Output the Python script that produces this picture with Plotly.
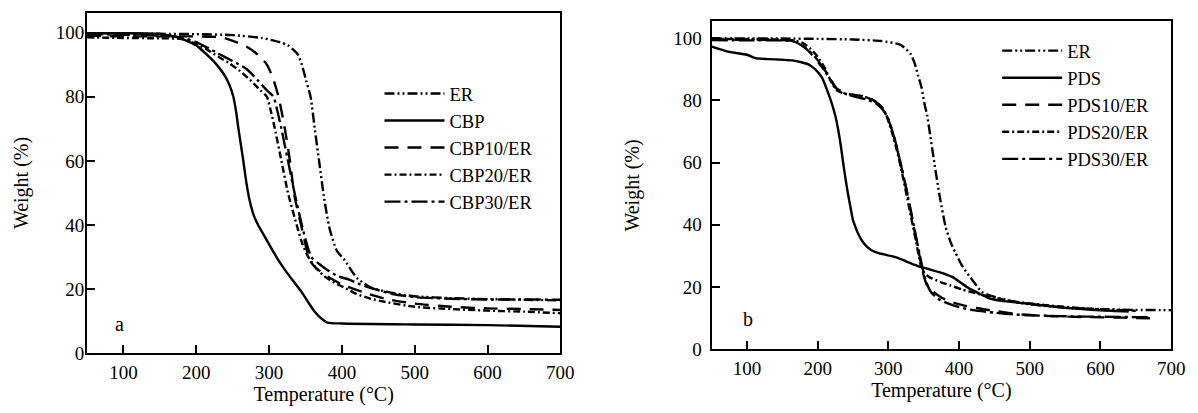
import plotly.graph_objects as go

# ---------------- Panel a ----------------
er_a_T = [50, 100, 150, 200, 250, 290, 315, 326, 334, 340, 345, 351, 357, 363, 369, 375, 383, 393, 404, 414, 422, 440, 470, 500, 550, 600, 650, 700]
er_a_W = [99.8, 99.7, 99.6, 99.5, 99.2, 98.3, 97, 96, 94.5, 93, 90, 85, 80, 69.6, 59.5, 49.3, 39, 32, 29, 25.5, 23.2, 20.5, 18.8, 17.8, 17.2, 16.9, 16.7, 16.5]

cbp_T = [50, 100, 150, 175, 200, 215, 228, 238, 245, 251, 255, 258, 262, 265, 269, 273, 279, 285, 295, 305, 313, 325, 335, 345, 355, 363, 372, 380, 400, 500, 600, 700]
cbp_W = [99.8, 99.8, 99.6, 98.5, 96, 93, 90, 87, 84, 80, 75, 70, 64, 59.5, 53, 48, 43, 40, 36, 32, 29, 25, 22, 19, 15.5, 12.9, 10.8, 9.6, 9.3, 9.0, 8.8, 8.3]

cbp10_T = [50, 100, 150, 200, 235, 255, 270, 285, 297, 305, 313, 322, 329, 335, 345, 356, 365, 380, 400, 430, 460, 500, 550, 600, 650, 700]
cbp10_W = [99, 98.8, 98.8, 98.8, 98.5, 97, 95.5, 93, 90, 86, 80, 69.6, 59.5, 49, 39, 29, 26.5, 24, 21.5, 19, 17, 15.5, 14.5, 14, 13.8, 13.5]

cbp20_T = [50, 100, 150, 180, 200, 213, 230, 245, 260, 275, 288, 297, 303, 308, 317, 326, 338, 346, 354, 363, 376, 390, 405, 420, 440, 460, 500, 550, 600, 650, 700]
cbp20_W = [98.5, 98.3, 98.2, 98, 96.5, 95, 92.5, 90.5, 88, 85, 82, 80, 75, 70, 60, 50, 40, 34, 30, 27, 24, 22, 20.3, 18.5, 17, 16, 14.5, 13.8, 13.3, 13, 12.5]

cbp30_T = [50, 100, 150, 180, 200, 230, 255, 270, 285, 297, 306, 312, 317, 326, 335, 345, 352, 358, 368, 380, 395, 410, 425, 445, 470, 500, 550, 600, 650, 700]
cbp30_W = [99.5, 99.3, 99, 98.5, 97, 93.5, 90.5, 88.5, 85, 82, 80, 75, 70, 60, 50, 40, 34, 30, 28, 26, 24, 23, 21.5, 20, 18.5, 17.5, 17, 16.8, 16.8, 16.7]

# ---------------- Panel b ----------------
er_b_T = [50, 100, 150, 200, 250, 290, 317, 331, 337, 342, 347, 351, 355, 358, 365, 372, 381, 388, 395, 404, 414, 423, 432, 448, 465, 490, 525, 560, 600, 650, 700]
er_b_W = [99.8, 99.8, 99.8, 99.7, 99.5, 99, 97.8, 95, 92, 88, 84, 79, 75, 70.6, 60, 50, 39.4, 34.5, 31, 27, 23.7, 21, 18.5, 17, 16, 14.8, 13.9, 13.3, 12.9, 12.7, 12.6]

pds_T = [50, 75, 100, 112, 130, 150, 164, 177, 187, 197, 206, 213, 220, 225, 229, 233, 236, 240, 243, 247, 250, 254, 257, 265, 275, 285, 294, 312, 325, 340, 355, 372, 391, 402, 414, 428, 442, 460, 489, 520, 554, 600, 640]
pds_W = [97.2, 95.5, 94.6, 93.5, 93.2, 93, 92.8, 92.2, 91.5, 89.8, 87.3, 83.5, 79, 75, 70.6, 65, 60, 54, 49.8, 45, 41.5, 39, 37.3, 34.2, 32, 31, 30.5, 29.5, 28.3, 26.9, 25.9, 24.8, 23.2, 21.5, 19.6, 18, 16.5, 15.6, 14.9, 14.1, 13.3, 12.6, 12.2]

pds10_T = [50, 100, 150, 165, 178, 192, 203, 211, 218, 225, 235, 243, 260, 275, 285, 294, 302, 308, 317, 327, 336, 345, 350, 355, 364, 375, 387, 405, 424, 455, 489, 530, 580, 630, 670]
pds10_W = [99.5, 99.4, 99.3, 99, 97.7, 94.6, 91.5, 89.4, 87, 84, 82.8, 82, 81.5, 80.5, 79, 77, 72.5, 68.5, 60, 49.8, 39.4, 29, 23.7, 20.5, 18.5, 16.7, 15.4, 14.2, 13.3, 12.2, 11.2, 10.7, 10.4, 10.2, 10]

pds20_T = [50, 100, 150, 165, 178, 190, 200, 211, 220, 228, 240, 255, 270, 282, 292, 299, 306, 312, 320, 329, 338, 346, 351, 358, 372, 387, 405, 424, 452, 480, 520, 560, 600, 650]
pds20_W = [99.7, 99.6, 99.5, 99.3, 98.5, 96.5, 94, 90, 85.5, 83, 82, 81.5, 80.8, 79.5, 77.5, 74, 69, 64, 56, 46, 36, 27, 24.5, 23.2, 21.8, 20.6, 19.2, 18, 16.5, 15.3, 14.3, 13.5, 12.9, 12.4]

pds30_T = [50, 100, 150, 165, 178, 192, 203, 211, 220, 228, 240, 255, 270, 282, 292, 300, 307, 315, 325, 334, 342, 348, 353, 360, 370, 385, 400, 420, 450, 480, 520, 560, 600, 640, 670]
pds30_W = [99.3, 99.2, 99.2, 99, 97.5, 95, 92, 89, 86, 83.5, 82, 81, 80.2, 79, 77, 74, 69, 62, 52, 42, 33, 26.5, 22, 18.5, 16.3, 14.7, 13.6, 12.6, 11.8, 11.2, 10.8, 10.6, 10.5, 10.4, 10.3]

x_ticks = [100, 200, 300, 400, 500, 600, 700]
y_ticks = [0, 20, 40, 60, 80, 100]

FONT = "Liberation Serif"
DASH_ER = "10px,3px,2px,3px,2px,3px"
DASH_10 = "14px,9px"
DASH_20 = "7px,3px,2px,3px"
DASH_30 = "16px,4px,3px,4px"
LW = 2.4

fig = go.Figure()

def add(T, W, name, dash, xa, ya, leg):
    fig.add_trace(go.Scatter(
        x=T, y=W, name=name, mode="lines", xaxis=xa, yaxis=ya, legend=leg,
        line=dict(color="black", width=LW, dash=dash, shape="spline", smoothing=0.6),
    ))

add(er_a_T, er_a_W, "ER", DASH_ER, "x", "y", "legend")
add(cbp_T, cbp_W, "CBP", "solid", "x", "y", "legend")
add(cbp10_T, cbp10_W, "CBP10/ER", DASH_10, "x", "y", "legend")
add(cbp20_T, cbp20_W, "CBP20/ER", DASH_20, "x", "y", "legend")
add(cbp30_T, cbp30_W, "CBP30/ER", DASH_30, "x", "y", "legend")

add(er_b_T, er_b_W, "ER", DASH_ER, "x2", "y2", "legend2")
add(pds_T, pds_W, "PDS", "solid", "x2", "y2", "legend2")
add(pds10_T, pds10_W, "PDS10/ER", DASH_10, "x2", "y2", "legend2")
add(pds20_T, pds20_W, "PDS20/ER", DASH_20, "x2", "y2", "legend2")
add(pds30_T, pds30_W, "PDS30/ER", DASH_30, "x2", "y2", "legend2")

W_PX, H_PX = 1198, 413

def xax(x0, x1, anchor):
    return dict(domain=[x0 / W_PX, x1 / W_PX], range=[50, 700], anchor=anchor,
                tickvals=x_ticks, ticks="inside", ticklen=8, tickwidth=1.5, tickcolor="black",
                showline=True, linecolor="black", linewidth=2, mirror=True,
                showgrid=False, zeroline=False, ticklabelstandoff=1,
                tickfont=dict(family=FONT, size=19, color="black"),
                title=dict(text="Temperature (°C)", font=dict(family=FONT, size=20, color="black"), standoff=2))

def yax(y0, y1, top, anchor, standoff_lbl, title_standoff):
    return dict(domain=[1 - y0 / H_PX, 1 - y1 / H_PX], range=[0, top], anchor=anchor,
                tickvals=y_ticks, ticks="inside", ticklen=8, tickwidth=1.5, tickcolor="black",
                showline=True, linecolor="black", linewidth=2, mirror=True,
                showgrid=False, zeroline=False, ticklabelstandoff=standoff_lbl,
                tickfont=dict(family=FONT, size=19, color="black"),
                title=dict(text="Weight (%)", font=dict(family=FONT, size=20, color="black"), standoff=title_standoff))

fig.update_layout(
    width=W_PX, height=H_PX,
    margin=dict(l=0, r=0, t=0, b=0),
    paper_bgcolor="white", plot_bgcolor="white",
    xaxis=xax(88, 567, "y"),
    yaxis=yax(363, 13, 106.2, "x", -3, 22),
    xaxis2=xax(720, 1185, "y2"),
    yaxis2=yax(359, 22, 105.3, "x2", 4, 28),
    legend=dict(x=384 / W_PX, y=1 - 77 / H_PX, xanchor="left", yanchor="top",
                bgcolor="rgba(0,0,0,0)", font=dict(family=FONT, size=18.5, color="black"),
                itemwidth=60, tracegroupgap=0),
    legend2=dict(x=1009 / W_PX, y=1 - 33 / H_PX, xanchor="left", yanchor="top",
                 bgcolor="rgba(0,0,0,0)", font=dict(family=FONT, size=18.5, color="black"),
                 itemwidth=60, tracegroupgap=0),
    annotations=[
        dict(text="a", x=95, y=9, xref="x", yref="y", showarrow=False,
             font=dict(family=FONT, size=20, color="black")),
        dict(text="b", x=101, y=9.7, xref="x2", yref="y2", showarrow=False,
             font=dict(family=FONT, size=20, color="black")),
    ],
)

fig.write_html("out.html", config={"displayModeBar": False},
               post_script="document.body.style.margin='0';document.body.style.overflow='hidden';")
